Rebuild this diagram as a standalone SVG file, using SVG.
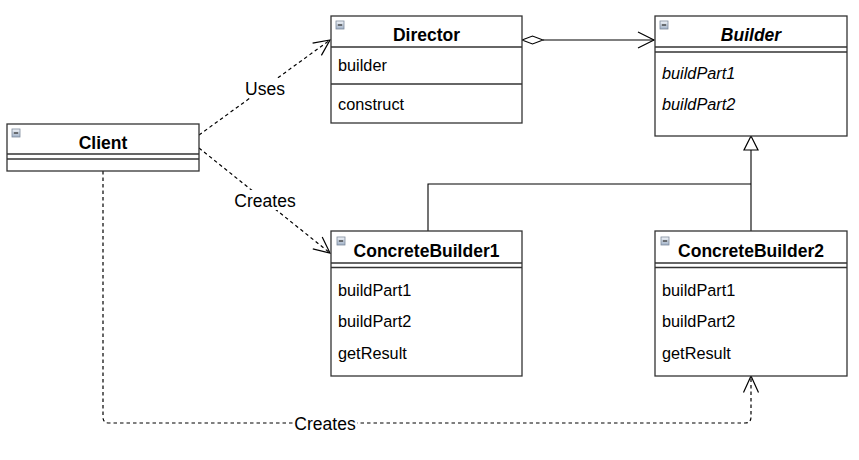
<svg xmlns="http://www.w3.org/2000/svg" width="859" height="460" viewBox="0 0 859 460">
<defs>
<linearGradient id="ig" x1="0" y1="0" x2="0" y2="1">
<stop offset="0" stop-color="#f2f5f9"/>
<stop offset="1" stop-color="#9fb0c6"/>
</linearGradient>
<g id="icon">
<rect x="0" y="0" width="8" height="8" fill="url(#ig)" stroke="#7d8a9c" stroke-width="0.8"/>
<line x1="1.8" y1="4" x2="6.2" y2="4" stroke="#333" stroke-width="1.3"/>
</g>
</defs>
<style>
.box{fill:#fff;stroke:#333;stroke-width:1.3}
.sep{stroke:#333;stroke-width:1.3;fill:none}
.title{font-family:"Liberation Sans",Arial,sans-serif;font-weight:bold;font-size:17.5px;fill:#000;text-anchor:middle}
.mem{font-family:"Liberation Sans",Arial,sans-serif;font-size:16.3px;fill:#000}
.it{font-style:italic}
.lbl{font-family:"Liberation Sans",Arial,sans-serif;font-size:17.5px;fill:#000;text-anchor:middle}
.dash{fill:none;stroke:#000;stroke-width:1.2;stroke-dasharray:3.5 3}
.solid{fill:none;stroke:#000;stroke-width:1.1}
.head{fill:none;stroke:#000;stroke-width:1.2}
</style>
<rect width="859" height="460" fill="#fff"/>

<g id="connectors">
<!-- Uses -->
<line class="dash" x1="199" y1="135" x2="330" y2="40"/>
<polyline class="head" points="312.6,43.2 330,40 321.4,55.4"/>
<rect x="243" y="78" width="44" height="20" fill="#fff"/>
<text class="lbl" x="265" y="95">Uses</text>
<!-- Creates CB1 -->
<line class="dash" x1="199" y1="148" x2="330" y2="253"/>
<polyline class="head" points="322.2,237.1 330,253 312.8,248.9"/>
<rect x="233" y="190" width="64" height="20" fill="#fff"/>
<text class="lbl" x="265" y="207">Creates</text>
<!-- Aggregation -->
<line class="solid" x1="543" y1="40" x2="654" y2="40"/>
<polygon points="522,40 532.5,36 543,40 532.5,44" fill="#fff" stroke="#000" stroke-width="1.1"/>
<polyline class="head" points="638,32 654,40 638,48"/>
<!-- Generalization -->
<polyline class="solid" points="428,231 428,184 751,184"/>
<line class="solid" x1="751" y1="231" x2="751" y2="150"/>
<polygon points="751,136 744,150 758,150" fill="#fff" stroke="#000" stroke-width="1.2"/>
<!-- Creates CB2 -->
<path class="dash" d="M103,171 V417 Q103,423 109,423 H745 Q751,423 751,417 V376"/>
<polyline class="head" points="743.5,392.5 751,376 758.5,392.5"/>
<rect x="293" y="414" width="64" height="20" fill="#fff"/>
<text class="lbl" x="325" y="430">Creates</text>
</g>

<g id="client">
<rect class="box" x="7" y="124" width="192" height="47"/>
<line class="sep" x1="7" y1="154" x2="199" y2="154"/>
<line class="sep" x1="7" y1="159" x2="199" y2="159"/>
<use href="#icon" x="12" y="129"/>
<text class="title" x="103" y="148.5">Client</text>
</g>

<g id="director">
<rect class="box" x="331" y="16" width="191" height="107"/>
<line class="sep" x1="331" y1="47" x2="522" y2="47"/>
<line class="sep" x1="331" y1="84" x2="522" y2="84"/>
<use href="#icon" x="336" y="21"/>
<text class="title" x="426.5" y="41">Director</text>
<text class="mem" x="338" y="71">builder</text>
<text class="mem" x="338" y="110">construct</text>
</g>

<g id="builder">
<rect class="box" x="655" y="16" width="192" height="120"/>
<line class="sep" x1="655" y1="47" x2="847" y2="47"/>
<line class="sep" x1="655" y1="52" x2="847" y2="52"/>
<use href="#icon" x="660" y="21"/>
<text class="title it" x="751" y="41">Builder</text>
<text class="mem it" x="662" y="79">buildPart1</text>
<text class="mem it" x="662" y="110">buildPart2</text>
</g>

<g id="concretebuilder1">
<rect class="box" x="331" y="231" width="191" height="145"/>
<line class="sep" x1="331" y1="263" x2="522" y2="263"/>
<line class="sep" x1="331" y1="267.5" x2="522" y2="267.5"/>
<use href="#icon" x="337" y="237"/>
<text class="title" x="426.5" y="257">ConcreteBuilder1</text>
<text class="mem" x="338" y="296">buildPart1</text>
<text class="mem" x="338" y="327">buildPart2</text>
<text class="mem" x="338" y="359">getResult</text>
</g>

<g id="concretebuilder2">
<rect class="box" x="655" y="231" width="192" height="145"/>
<line class="sep" x1="655" y1="263" x2="847" y2="263"/>
<line class="sep" x1="655" y1="267.5" x2="847" y2="267.5"/>
<use href="#icon" x="661" y="237"/>
<text class="title" x="751" y="257">ConcreteBuilder2</text>
<text class="mem" x="662" y="296">buildPart1</text>
<text class="mem" x="662" y="327">buildPart2</text>
<text class="mem" x="662" y="359">getResult</text>
</g>
</svg>
